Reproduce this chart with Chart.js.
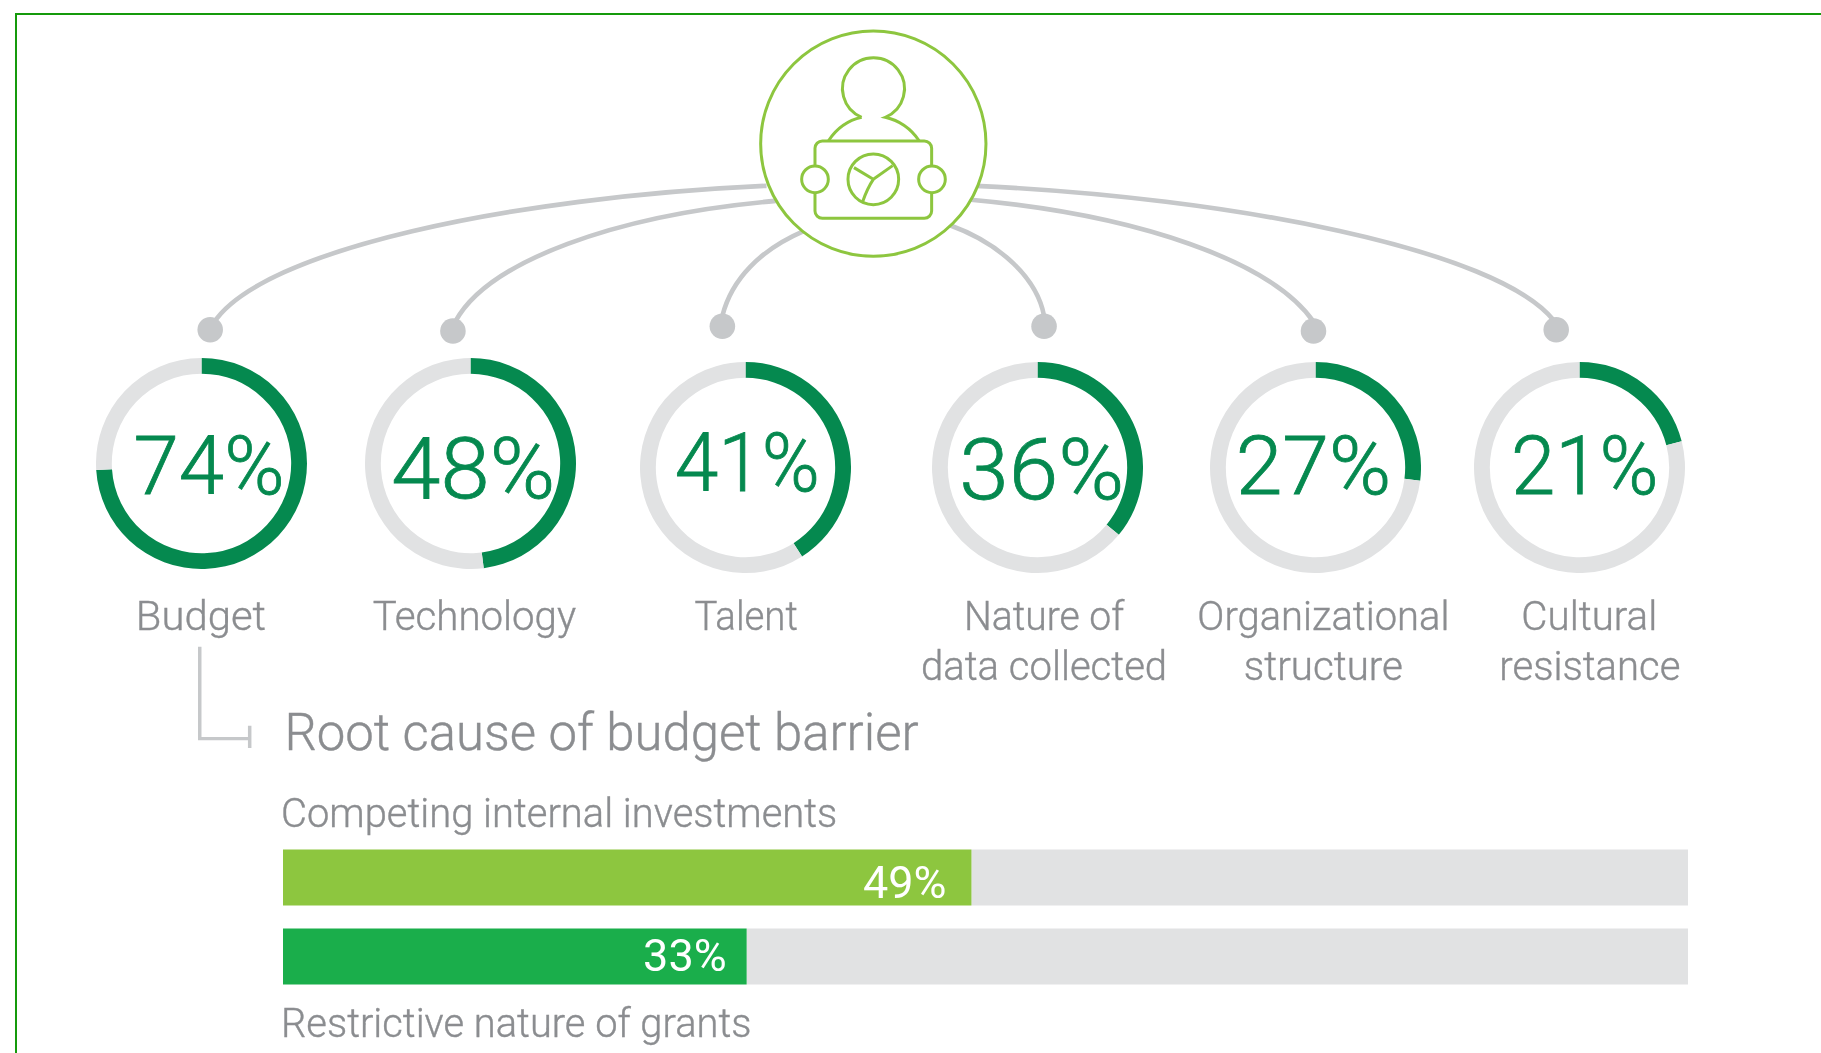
<!DOCTYPE html>
<html>
<head>
<meta charset="utf-8">
<title>Barriers</title>
<script src="https://cdn.jsdelivr.net/npm/chart.js@4"></script>
<style>
    html, body { margin: 0; padding: 0; background: #fff; overflow: hidden; }
    #pagina { position: relative; width: 1821px; height: 1053px; overflow: hidden; }
    #marco { position: absolute; left: 15px; top: 13px; width: 1821px; height: 1053px; border-top: 2px solid #159a0c; border-left: 2px solid #159a0c; }
    canvas { position: absolute; }
    svg { position: absolute; left: 0; top: 0; pointer-events: none; }
    text { font-family: Roboto, sans-serif; font-weight: 300; }
</style>
</head>
<body>
<div id="pagina">
    <div id="marco"></div>
    <div id="anillos"></div>
    <canvas id="barras"></canvas>
    <svg id="dibujo" width="1821" height="1053"></svg>
</div>
<script>
const categorias = ["Budget", "Technology", "Talent", "Nature of data collected", "Organizational structure", "Cultural resistance"];
const valores = [74, 48, 41, 36, 27, 21];
const titulo = "Root cause of budget barrier";
const causas = ["Competing internal investments", "Restrictive nature of grants"];
const valoresCausas = [49, 33];

// the reference was measured on the 1568 wide preview
const S = 1821 / 1568;
const GRIS_LINEA = "#c6c8ca";
const GRIS_TEXTO = "#8b8d90";
const VERDE = "#05894f";
const VERDE_ICONO = "#8dc63f";
const FONDO = "#e1e2e3";

const centros = [[174, 399], [405.5, 399], [642, 402.5], [893.5, 402.5], [1132.5, 402.5], [1360, 402.5]];
const RADIO = 91 * S;

centros.forEach((c, i) => {
    const canvas = document.createElement("canvas");
    canvas.width = Math.round(RADIO * 2);
    canvas.height = Math.round(RADIO * 2);
    canvas.style.left = (c[0] * S - RADIO) + "px";
    canvas.style.top = (c[1] * S - RADIO) + "px";
    document.getElementById("anillos").appendChild(canvas);
    new Chart(canvas, {
        type: "doughnut",
        data: {
            labels: [categorias[i], ""],
            datasets: [{
                data: [valores[i], 100 - valores[i]],
                backgroundColor: [VERDE, FONDO],
                borderWidth: 0
            }]
        },
        options: {
            responsive: false,
            animation: false,
            cutout: "85%",
            plugins: { legend: { display: false }, tooltip: { enabled: false } }
        }
    });
});

// value labels inside the bars
const ajusteEtiquetasX = [25, 20];
const ajusteEtiquetasY = [9, 3];
const etiquetasBarras = {
    id: "etiquetasBarras",
    afterDatasetsDraw(chart) {
        const ctx = chart.ctx;
        ctx.save();
        ctx.font = "400 45px Roboto, sans-serif";
        ctx.fillStyle = "#fff";
        ctx.textAlign = "right";
        ctx.textBaseline = "middle";
        chart.getDatasetMeta(0).data.forEach((barra, i) => {
            ctx.fillText(valoresCausas[i] + "%", barra.x - ajusteEtiquetasX[i], barra.y + ajusteEtiquetasY[i]);
        });
        ctx.restore();
    }
};

const lienzo = document.getElementById("barras");
const altoBanda = 79;
lienzo.width = Math.round(1210 * S);
lienzo.height = altoBanda * 2;
lienzo.style.left = (244 * S) + "px";
lienzo.style.top = "838px";
new Chart(lienzo, {
    type: "bar",
    data: {
        labels: causas,
        datasets: [
            { data: valoresCausas, backgroundColor: [VERDE_ICONO, "#1aae4b"], borderWidth: 0 },
            { data: valoresCausas.map(v => 100 - v), backgroundColor: FONDO, borderWidth: 0 }
        ]
    },
    options: {
        indexAxis: "y",
        responsive: false,
        animation: false,
        datasets: { bar: { categoryPercentage: 56 / altoBanda, barPercentage: 1 } },
        scales: {
            x: { display: false, stacked: true, min: 0, max: 100 },
            y: { display: false, stacked: true }
        },
        plugins: { legend: { display: false }, tooltip: { enabled: false } }
    },
    plugins: [etiquetasBarras]
});

// connectors, icon and texts
const NS = "http://www.w3.org/2000/svg";
const dibujo = document.getElementById("dibujo");

function crear(padre, tipo, attrs, contenido) {
    const el = document.createElementNS(NS, tipo);
    Object.keys(attrs).forEach(k => el.setAttribute(k, attrs[k]));
    if (contenido) el.textContent = contenido;
    padre.appendChild(el);
    return el;
}

const lineas = crear(dibujo, "g", { transform: "scale(" + S + ")", fill: "none", stroke: GRIS_LINEA, "stroke-width": 4 });
[
    "M184 278 C 225 215, 440 170, 660 160",
    "M392 277 C 420 225, 530 185, 668 173",
    "M622 272 C 630 240, 655 215, 692 199",
    "M899 272 C 893 240, 862 210, 818 194",
    "M1131 277 C 1095 225, 980 185, 836 172",
    "M1338 276 C 1290 215, 1060 170, 840 160"
].forEach(d => crear(lineas, "path", { d: d }));
[[181, 284], [390, 285], [622, 281], [899, 281], [1131, 285], [1340, 284]].forEach(p => {
    crear(lineas, "circle", { cx: p[0], cy: p[1], r: 11, fill: GRIS_LINEA, stroke: "none" });
});
crear(lineas, "path", { d: "M172 557 V636 H215 M215 625 V644", "stroke-width": 3 });

// icon, drawn in 3x units from the crop at x = 700
const icono = crear(dibujo, "g", { transform: "translate(700 0) scale(0.3333)", fill: "none", stroke: VERDE_ICONO, "stroke-width": 9 });
crear(icono, "circle", { cx: 520, cy: 431, r: 338, fill: "#fff" });
crear(icono, "path", { d: "M485 352 A 93 93 0 1 1 556 352 C 600 362, 632 385, 658 423 M485 352 C 440 362, 410 385, 385 423" });
crear(icono, "rect", { x: 345, y: 423, width: 350, height: 232, rx: 22 });
crear(icono, "circle", { cx: 345, cy: 538, r: 40, fill: "#fff" });
crear(icono, "circle", { cx: 696, cy: 538, r: 40, fill: "#fff" });
crear(icono, "circle", { cx: 520, cy: 538, r: 76 });
crear(icono, "path", { d: "M520 538 L462 503 M520 538 L578 497 M520 538 C 505 560, 495 585, 488 605" });

function texto(cadena, x, base, ancho, tam, color, grosor) {
    crear(dibujo, "text", {
        x: x * S, y: base * S,
        textLength: ancho * S,
        lengthAdjust: "spacingAndGlyphs",
        "font-size": tam,
        fill: color,
        stroke: color,
        "stroke-width": grosor
    }, cadena);
}

// big percentages: x, baseline, width, font size
[[115, 425, 130, 82], [337, 429, 141, 85], [581, 423, 125, 82], [826, 430, 142, 85], [1064, 425, 134, 82], [1301, 425, 127, 82]].forEach((p, i) => {
    texto(valores[i] + "%", p[0], p[1], p[2], p[3], VERDE, 0.8);
});

// labels under the rings, split where the reference breaks the line
[
    [["Budget", 117, 543, 112]],
    [["Technology", 321, 543, 175]],
    [["Talent", 598, 543, 89]],
    [["Nature of", 830, 543, 138], ["data collected", 793, 586, 212]],
    [["Organizational", 1031, 543, 217], ["structure", 1071, 586, 137]],
    [["Cultural", 1310, 543, 117], ["resistance", 1291, 586, 156]]
].forEach(partes => {
    partes.forEach(p => texto(p[0], p[1], p[2] - 0.6, p[3], 41, GRIS_TEXTO, 0.4));
});

texto(titulo, 245, 646, 546, 52, GRIS_TEXTO, 0.4);
texto(causas[0], 242, 712, 479, 41, GRIS_TEXTO, 0.4);
texto(causas[1], 242, 893, 405, 41, GRIS_TEXTO, 0.4);
</script>
</body>
</html>
